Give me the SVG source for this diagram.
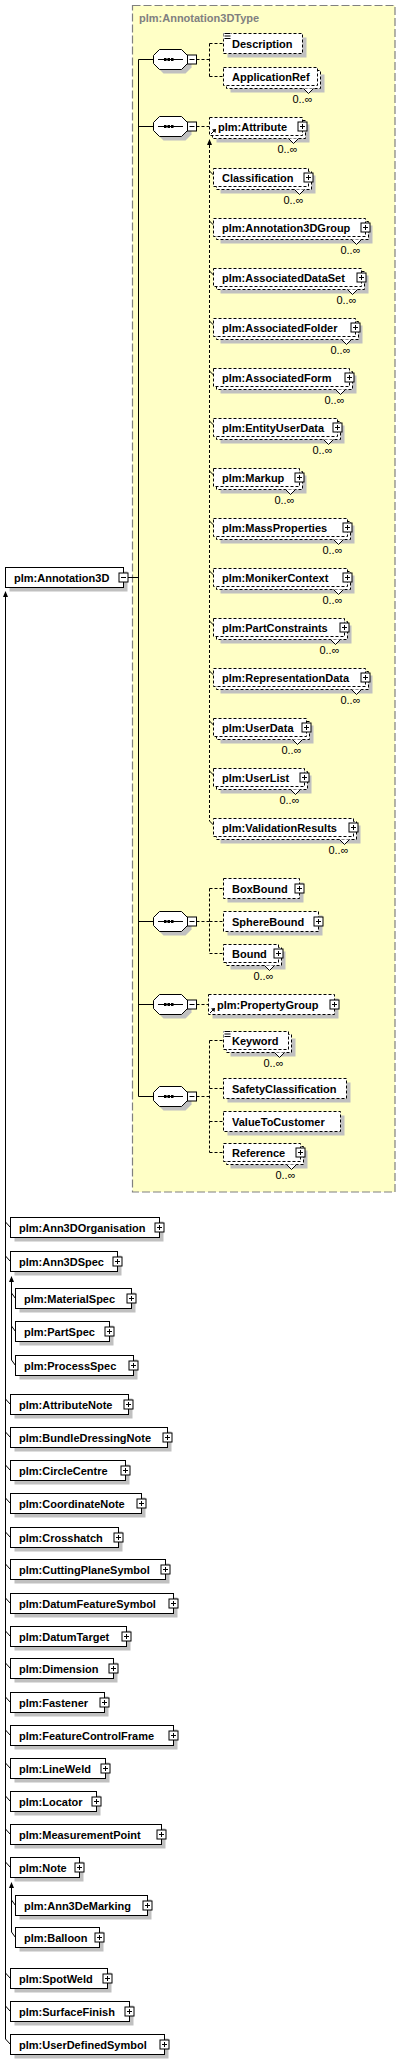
<svg xmlns="http://www.w3.org/2000/svg" xmlns:xlink="http://www.w3.org/1999/xlink" width="401" height="2059" viewBox="0 0 401 2059">
<style>
.t{font-family:"Liberation Sans",Arial,sans-serif;font-size:11px;font-weight:bold;fill:#000}
.tt{font-family:"Liberation Sans",Arial,sans-serif;font-size:11px;font-weight:bold;fill:#808080}
.c{font-family:"Liberation Sans",Arial,sans-serif;font-size:11px;fill:#000;text-anchor:end}
.sh{fill:#c0c0c0}
.bx{fill:#fff;stroke:#000;stroke-width:1}
.bd{fill:#fff;stroke:#000;stroke-width:1;stroke-dasharray:3,2}
.ln{fill:none;stroke:#000;stroke-width:1}
.dl{fill:none;stroke:#000;stroke-width:1;stroke-dasharray:3,2}
</style>
<defs>
<g id="plus"><rect x="-4" y="-4" width="9" height="9" class="bx"/><path d="M-2 0.5H3M0.5 -2V3" class="ln"/></g>
<g id="minus"><rect x="-4" y="-4" width="9" height="9" class="bx"/><path d="M-2 0.5H3" class="ln"/></g>
<g id="seq">
<polygon class="sh" points="10.5,-5.5 32.5,-5.5 38.5,0.5 38.5,8.5 32.5,14.5 10.5,14.5 4.5,8.5 4.5,0.5"/>
<polygon class="bx" points="6.5,-9.5 28.5,-9.5 34.5,-3.5 34.5,4.5 28.5,10.5 6.5,10.5 0.5,4.5 0.5,-3.5"/>
<path class="ln" d="M5 0.5H30"/>
<rect x="11" y="-1" width="2.5" height="3"/>
<rect x="14.5" y="-1" width="2.5" height="3"/>
<rect x="18" y="-1" width="2.5" height="3"/>
<rect class="bx" x="34.5" y="-4" width="9" height="9"/>
<path class="ln" d="M36.5 0.5H41.5"/>
</g>
<g id="notch"><polygon points="-5,0 0,5 5,0" fill="#fff"/><polyline points="-5,0 0,5 5,0" class="ln"/></g>
<g id="ref"><path d="M1.5 -1.5L5 -5" class="ln" stroke-width="1.3"/><polygon points="6.5,-6.5 2.5,-6 6,-2.5"/></g>
<g id="sc"><rect x="0" y="-1" width="7.5" height="7" fill="#fff"/><path class="ln" d="M1 0H7M1 2.5H7M1 5H7"/></g>
<polygon id="up" points="0,0 -2.5,6 2.5,6"/>
</defs>

<g id="Annotation3DType">
<rect x="132.5" y="5.5" width="262.5" height="1186.5" fill="#ffffc6" stroke="#808080" stroke-width="1.2" stroke-dasharray="8,3"/>
<text class="tt" x="139" y="22">plm:Annotation3DType</text>
</g>

<g id="connectors">
<path class="ln" d="M127.5 577.5H138.5M138.5 59.5V1096.5M138.5 59.5H153.5M138.5 126.5H153.5M138.5 921.5H153.5M138.5 1004.5H153.5M138.5 1096.5H153.5"/>
<path class="dl" d="M196.5 59.5H209.5M209.5 43.5V76.5M209.5 43.5H223M209.5 76.5H223"/>
<path class="dl" d="M196.5 126.5H209.5"/>
<path class="dl" d="M196.5 921.5H209.5M209.5 888.5V953.5M209.5 888.5H223M209.5 921.5H223M209.5 953.5H223"/>
<path class="dl" d="M196.5 1004.5H208.5"/>
<path class="dl" d="M196.5 1096.5H209.5M209.5 1040.5V1152.5M209.5 1040.5H223M209.5 1088.5H223M209.5 1121.5H223M209.5 1152.5H223"/>
<path class="dl" d="M209.5 145V821"/>
<use xlink:href="#up" href="#up" x="209.5" y="139"/>
<path class="ln" d="M209.5 171L213.5 175M209.5 221L213.5 225M209.5 271L213.5 275M209.5 321L213.5 325M209.5 371L213.5 375M209.5 421L213.5 425M209.5 471L213.5 475M209.5 521L213.5 525M209.5 571L213.5 575M209.5 621L213.5 625M209.5 671L213.5 675M209.5 721L213.5 725M209.5 771L213.5 775M209.5 821L213.5 825"/>
<path class="ln" d="M5.5 597V2039"/>
<use xlink:href="#up" href="#up" x="5.5" y="591"/>
<path class="ln" d="M5.5 1222L10.5 1227.5M5.5 1256L10.5 1261.5M5.5 1399L10.5 1404.5M5.5 1432L10.5 1437.5M5.5 1465L10.5 1470.5M5.5 1498L10.5 1503.5M5.5 1532L10.5 1537.5M5.5 1564L10.5 1569.5M5.5 1598L10.5 1603.5M5.5 1631L10.5 1636.5M5.5 1663L10.5 1668.5M5.5 1697L10.5 1702.5M5.5 1730L10.5 1735.5M5.5 1763L10.5 1768.5M5.5 1796L10.5 1801.5M5.5 1829L10.5 1834.5M5.5 1862L10.5 1867.5M5.5 1973L10.5 1978.5M5.5 2006L10.5 2011.5M5.5 2039L10.5 2044.5"/>
<path class="ln" d="M11.5 1281V1360M11.5 1293L15.5 1298.5M11.5 1326L15.5 1331.5M11.5 1360L15.5 1365.5"/>
<use xlink:href="#up" href="#up" x="11.5" y="1276"/>
<path class="ln" d="M11.5 1887V1932M11.5 1900L15.5 1905.5M11.5 1932L15.5 1937.5"/>
<use xlink:href="#up" href="#up" x="11.5" y="1882"/>
</g>

<g id="seq1"><use xlink:href="#seq" href="#seq" x="153" y="59"/></g>
<g id="seq2"><use xlink:href="#seq" href="#seq" x="153" y="126"/></g>
<g id="seq3"><use xlink:href="#seq" href="#seq" x="153" y="921"/></g>
<g id="seq4"><use xlink:href="#seq" href="#seq" x="153" y="1004"/></g>
<g id="seq5"><use xlink:href="#seq" href="#seq" x="153" y="1096"/></g>

<g id="Description">
<rect class="sh" x="227.5" y="37.5" width="79" height="20"/>
<rect class="bd" x="223.5" y="33.5" width="79" height="20"/>
<use xlink:href="#sc" href="#sc" x="223.5" y="33.5"/>
<text class="t" x="232" y="47.5">Description</text>
</g>
<g id="ApplicationRef">
<rect class="sh" x="230.5" y="74.5" width="94" height="18"/>
<rect class="bd" x="226.5" y="70.5" width="94" height="18"/>
<rect class="bd" x="223.5" y="67.5" width="94" height="18"/>
<use xlink:href="#notch" href="#notch" x="308.5" y="88.5"/>
<text class="t" x="232" y="80.5">ApplicationRef</text>
<text class="c" x="312.5" y="103">0..∞</text>
</g>

<g id="Attribute">
<rect class="sh" x="216.5" y="124.5" width="93" height="18"/>
<rect class="bd" x="212.5" y="120.5" width="93" height="18"/>
<rect class="bd" x="209.5" y="117.5" width="93" height="18"/>
<use xlink:href="#notch" href="#notch" x="293.5" y="138.5"/>
<use xlink:href="#ref" href="#ref" x="209.5" y="135.5"/>
<text class="t" x="218" y="130.5">plm:Attribute</text>
<use xlink:href="#plus" href="#plus" x="302" y="126"/>
<text class="c" x="297.5" y="153">0..∞</text>
</g>

<g id="Classification">
<rect class="sh" x="220.5" y="175.5" width="95" height="18"/>
<rect class="bd" x="216.5" y="171.5" width="95" height="18"/>
<rect class="bd" x="213.5" y="168.5" width="95" height="18"/>
<use xlink:href="#notch" href="#notch" x="299.5" y="189.5"/>
<text class="t" x="222" y="181.5">Classification</text>
<use xlink:href="#plus" href="#plus" x="308" y="177"/>
<text class="c" x="303.5" y="204">0..∞</text>
</g>
<g id="Annotation3DGroup">
<rect class="sh" x="220.5" y="225.5" width="152" height="18"/>
<rect class="bd" x="216.5" y="221.5" width="152" height="18"/>
<rect class="bd" x="213.5" y="218.5" width="152" height="18"/>
<use xlink:href="#notch" href="#notch" x="356.5" y="239.5"/>
<text class="t" x="222" y="231.5">plm:Annotation3DGroup</text>
<use xlink:href="#plus" href="#plus" x="365" y="227"/>
<text class="c" x="360.5" y="254">0..∞</text>
</g>
<g id="AssociatedDataSet">
<rect class="sh" x="220.5" y="275.5" width="148" height="18"/>
<rect class="bd" x="216.5" y="271.5" width="148" height="18"/>
<rect class="bd" x="213.5" y="268.5" width="148" height="18"/>
<use xlink:href="#notch" href="#notch" x="352.5" y="289.5"/>
<text class="t" x="222" y="281.5">plm:AssociatedDataSet</text>
<use xlink:href="#plus" href="#plus" x="361" y="277"/>
<text class="c" x="356.5" y="304">0..∞</text>
</g>
<g id="AssociatedFolder">
<rect class="sh" x="220.5" y="325.5" width="142" height="18"/>
<rect class="bd" x="216.5" y="321.5" width="142" height="18"/>
<rect class="bd" x="213.5" y="318.5" width="142" height="18"/>
<use xlink:href="#notch" href="#notch" x="346.5" y="339.5"/>
<text class="t" x="222" y="331.5">plm:AssociatedFolder</text>
<use xlink:href="#plus" href="#plus" x="355" y="327"/>
<text class="c" x="350.5" y="354">0..∞</text>
</g>
<g id="AssociatedForm">
<rect class="sh" x="220.5" y="375.5" width="136" height="18"/>
<rect class="bd" x="216.5" y="371.5" width="136" height="18"/>
<rect class="bd" x="213.5" y="368.5" width="136" height="18"/>
<use xlink:href="#notch" href="#notch" x="340.5" y="389.5"/>
<text class="t" x="222" y="381.5">plm:AssociatedForm</text>
<use xlink:href="#plus" href="#plus" x="349" y="377"/>
<text class="c" x="344.5" y="404">0..∞</text>
</g>
<g id="EntityUserData">
<rect class="sh" x="220.5" y="425.5" width="124" height="18"/>
<rect class="bd" x="216.5" y="421.5" width="124" height="18"/>
<rect class="bd" x="213.5" y="418.5" width="124" height="18"/>
<use xlink:href="#notch" href="#notch" x="328.5" y="439.5"/>
<text class="t" x="222" y="431.5">plm:EntityUserData</text>
<use xlink:href="#plus" href="#plus" x="337" y="427"/>
<text class="c" x="332.5" y="454">0..∞</text>
</g>
<g id="Markup">
<rect class="sh" x="220.5" y="475.5" width="86" height="18"/>
<rect class="bd" x="216.5" y="471.5" width="86" height="18"/>
<rect class="bd" x="213.5" y="468.5" width="86" height="18"/>
<use xlink:href="#notch" href="#notch" x="290.5" y="489.5"/>
<text class="t" x="222" y="481.5">plm:Markup</text>
<use xlink:href="#plus" href="#plus" x="299" y="477"/>
<text class="c" x="294.5" y="504">0..∞</text>
</g>
<g id="MassProperties">
<rect class="sh" x="220.5" y="525.5" width="134" height="18"/>
<rect class="bd" x="216.5" y="521.5" width="134" height="18"/>
<rect class="bd" x="213.5" y="518.5" width="134" height="18"/>
<use xlink:href="#notch" href="#notch" x="338.5" y="539.5"/>
<text class="t" x="222" y="531.5">plm:MassProperties</text>
<use xlink:href="#plus" href="#plus" x="347" y="527"/>
<text class="c" x="342.5" y="554">0..∞</text>
</g>
<g id="MonikerContext">
<rect class="sh" x="220.5" y="575.5" width="134" height="18"/>
<rect class="bd" x="216.5" y="571.5" width="134" height="18"/>
<rect class="bd" x="213.5" y="568.5" width="134" height="18"/>
<use xlink:href="#notch" href="#notch" x="338.5" y="589.5"/>
<text class="t" x="222" y="581.5">plm:MonikerContext</text>
<use xlink:href="#plus" href="#plus" x="347" y="577"/>
<text class="c" x="342.5" y="604">0..∞</text>
</g>
<g id="PartConstraints">
<rect class="sh" x="220.5" y="625.5" width="131" height="18"/>
<rect class="bd" x="216.5" y="621.5" width="131" height="18"/>
<rect class="bd" x="213.5" y="618.5" width="131" height="18"/>
<use xlink:href="#notch" href="#notch" x="335.5" y="639.5"/>
<text class="t" x="222" y="631.5">plm:PartConstraints</text>
<use xlink:href="#plus" href="#plus" x="344" y="627"/>
<text class="c" x="339.5" y="654">0..∞</text>
</g>
<g id="RepresentationData">
<rect class="sh" x="220.5" y="675.5" width="152" height="18"/>
<rect class="bd" x="216.5" y="671.5" width="152" height="18"/>
<rect class="bd" x="213.5" y="668.5" width="152" height="18"/>
<use xlink:href="#notch" href="#notch" x="356.5" y="689.5"/>
<text class="t" x="222" y="681.5">plm:RepresentationData</text>
<use xlink:href="#plus" href="#plus" x="365" y="677"/>
<text class="c" x="360.5" y="704">0..∞</text>
</g>
<g id="UserData">
<rect class="sh" x="220.5" y="725.5" width="93" height="18"/>
<rect class="bd" x="216.5" y="721.5" width="93" height="18"/>
<rect class="bd" x="213.5" y="718.5" width="93" height="18"/>
<use xlink:href="#notch" href="#notch" x="297.5" y="739.5"/>
<text class="t" x="222" y="731.5">plm:UserData</text>
<use xlink:href="#plus" href="#plus" x="306" y="727"/>
<text class="c" x="301.5" y="754">0..∞</text>
</g>
<g id="UserList">
<rect class="sh" x="220.5" y="775.5" width="91" height="18"/>
<rect class="bd" x="216.5" y="771.5" width="91" height="18"/>
<rect class="bd" x="213.5" y="768.5" width="91" height="18"/>
<use xlink:href="#notch" href="#notch" x="295.5" y="789.5"/>
<text class="t" x="222" y="781.5">plm:UserList</text>
<use xlink:href="#plus" href="#plus" x="304" y="777"/>
<text class="c" x="299.5" y="804">0..∞</text>
</g>
<g id="ValidationResults">
<rect class="sh" x="220.5" y="825.5" width="140" height="18"/>
<rect class="bd" x="216.5" y="821.5" width="140" height="18"/>
<rect class="bd" x="213.5" y="818.5" width="140" height="18"/>
<use xlink:href="#notch" href="#notch" x="344.5" y="839.5"/>
<text class="t" x="222" y="831.5">plm:ValidationResults</text>
<use xlink:href="#plus" href="#plus" x="353" y="827"/>
<text class="c" x="348.5" y="854">0..∞</text>
</g>

<g id="BoxBound">
<rect class="sh" x="227.5" y="882.5" width="76" height="20"/>
<rect class="bd" x="223.5" y="878.5" width="76" height="20"/>
<text class="t" x="232" y="892.5">BoxBound</text>
<use xlink:href="#plus" href="#plus" x="299" y="888"/>
</g>
<g id="SphereBound">
<rect class="sh" x="227.5" y="915.5" width="95" height="20"/>
<rect class="bd" x="223.5" y="911.5" width="95" height="20"/>
<text class="t" x="232" y="925.5">SphereBound</text>
<use xlink:href="#plus" href="#plus" x="318" y="921"/>
</g>
<g id="Bound">
<rect class="sh" x="230.5" y="951.5" width="55" height="18"/>
<rect class="bd" x="226.5" y="947.5" width="55" height="18"/>
<rect class="bd" x="223.5" y="944.5" width="55" height="18"/>
<use xlink:href="#notch" href="#notch" x="269.5" y="965.5"/>
<text class="t" x="232" y="957.5">Bound</text>
<use xlink:href="#plus" href="#plus" x="278" y="953"/>
<text class="c" x="273.5" y="980">0..∞</text>
</g>

<g id="PropertyGroup">
<rect class="sh" x="212.5" y="998.5" width="126" height="20"/>
<rect class="bd" x="208.5" y="994.5" width="126" height="20"/>
<use xlink:href="#ref" href="#ref" x="208.5" y="1014.5"/>
<text class="t" x="217" y="1008.5">plm:PropertyGroup</text>
<use xlink:href="#plus" href="#plus" x="334" y="1004"/>
</g>

<g id="Keyword">
<rect class="sh" x="230.5" y="1038.5" width="65" height="18"/>
<rect class="bd" x="226.5" y="1034.5" width="65" height="18"/>
<rect class="bd" x="223.5" y="1031.5" width="65" height="18"/>
<use xlink:href="#notch" href="#notch" x="279.5" y="1052.5"/>
<use xlink:href="#sc" href="#sc" x="223.5" y="1031.5"/>
<text class="t" x="232" y="1044.5">Keyword</text>
<text class="c" x="283.5" y="1067">0..∞</text>
</g>
<g id="SafetyClassification">
<rect class="sh" x="227.5" y="1082.5" width="123" height="20"/>
<rect class="bd" x="223.5" y="1078.5" width="123" height="20"/>
<text class="t" x="232" y="1092.5">SafetyClassification</text>
</g>
<g id="ValueToCustomer">
<rect class="sh" x="227.5" y="1115.5" width="117" height="20"/>
<rect class="bd" x="223.5" y="1111.5" width="117" height="20"/>
<text class="t" x="232" y="1125.5">ValueToCustomer</text>
</g>
<g id="Reference">
<rect class="sh" x="230.5" y="1150.5" width="77" height="18"/>
<rect class="bd" x="226.5" y="1146.5" width="77" height="18"/>
<rect class="bd" x="223.5" y="1143.5" width="77" height="18"/>
<use xlink:href="#notch" href="#notch" x="291.5" y="1164.5"/>
<text class="t" x="232" y="1156.5">Reference</text>
<use xlink:href="#plus" href="#plus" x="300" y="1152"/>
<text class="c" x="295.5" y="1179">0..∞</text>
</g>

<g id="Annotation3D">
<rect class="sh" x="9.5" y="571.5" width="118" height="20"/>
<rect class="bx" x="5.5" y="567.5" width="118" height="20"/>
<text class="t" x="14" y="581.5">plm:Annotation3D</text>
<use xlink:href="#minus" href="#minus" x="123" y="577"/>
</g>

<g id="Ann3DOrganisation"><rect class="sh" x="14.5" y="1221.5" width="149" height="20"/><rect class="bx" x="10.5" y="1217.5" width="149" height="20"/><text class="t" x="19" y="1231.5">plm:Ann3DOrganisation</text><use xlink:href="#plus" href="#plus" x="159" y="1227"/></g>
<g id="Ann3DSpec"><rect class="sh" x="14.5" y="1255.5" width="107" height="20"/><rect class="bx" x="10.5" y="1251.5" width="107" height="20"/><text class="t" x="19" y="1265.5">plm:Ann3DSpec</text><use xlink:href="#plus" href="#plus" x="117" y="1261"/></g>
<g id="MaterialSpec"><rect class="sh" x="19.5" y="1292.5" width="116" height="20"/><rect class="bx" x="15.5" y="1288.5" width="116" height="20"/><text class="t" x="24" y="1302.5">plm:MaterialSpec</text><use xlink:href="#plus" href="#plus" x="131" y="1298"/></g>
<g id="PartSpec"><rect class="sh" x="19.5" y="1325.5" width="94" height="20"/><rect class="bx" x="15.5" y="1321.5" width="94" height="20"/><text class="t" x="24" y="1335.5">plm:PartSpec</text><use xlink:href="#plus" href="#plus" x="109" y="1331"/></g>
<g id="ProcessSpec"><rect class="sh" x="19.5" y="1359.5" width="118" height="20"/><rect class="bx" x="15.5" y="1355.5" width="118" height="20"/><text class="t" x="24" y="1369.5">plm:ProcessSpec</text><use xlink:href="#plus" href="#plus" x="133" y="1365"/></g>
<g id="AttributeNote"><rect class="sh" x="14.5" y="1398.5" width="118" height="20"/><rect class="bx" x="10.5" y="1394.5" width="118" height="20"/><text class="t" x="19" y="1408.5">plm:AttributeNote</text><use xlink:href="#plus" href="#plus" x="128" y="1404"/></g>
<g id="BundleDressingNote"><rect class="sh" x="14.5" y="1431.5" width="157" height="20"/><rect class="bx" x="10.5" y="1427.5" width="157" height="20"/><text class="t" x="19" y="1441.5">plm:BundleDressingNote</text><use xlink:href="#plus" href="#plus" x="167" y="1437"/></g>
<g id="CircleCentre"><rect class="sh" x="14.5" y="1464.5" width="115" height="20"/><rect class="bx" x="10.5" y="1460.5" width="115" height="20"/><text class="t" x="19" y="1474.5">plm:CircleCentre</text><use xlink:href="#plus" href="#plus" x="125" y="1470"/></g>
<g id="CoordinateNote"><rect class="sh" x="14.5" y="1497.5" width="131" height="20"/><rect class="bx" x="10.5" y="1493.5" width="131" height="20"/><text class="t" x="19" y="1507.5">plm:CoordinateNote</text><use xlink:href="#plus" href="#plus" x="141" y="1503"/></g>
<g id="Crosshatch"><rect class="sh" x="14.5" y="1531.5" width="108" height="20"/><rect class="bx" x="10.5" y="1527.5" width="108" height="20"/><text class="t" x="19" y="1541.5">plm:Crosshatch</text><use xlink:href="#plus" href="#plus" x="118" y="1537"/></g>
<g id="CuttingPlaneSymbol"><rect class="sh" x="14.5" y="1563.5" width="155" height="20"/><rect class="bx" x="10.5" y="1559.5" width="155" height="20"/><text class="t" x="19" y="1573.5">plm:CuttingPlaneSymbol</text><use xlink:href="#plus" href="#plus" x="165" y="1569"/></g>
<g id="DatumFeatureSymbol"><rect class="sh" x="14.5" y="1597.5" width="163" height="20"/><rect class="bx" x="10.5" y="1593.5" width="163" height="20"/><text class="t" x="19" y="1607.5">plm:DatumFeatureSymbol</text><use xlink:href="#plus" href="#plus" x="173" y="1603"/></g>
<g id="DatumTarget"><rect class="sh" x="14.5" y="1630.5" width="116" height="20"/><rect class="bx" x="10.5" y="1626.5" width="116" height="20"/><text class="t" x="19" y="1640.5">plm:DatumTarget</text><use xlink:href="#plus" href="#plus" x="126" y="1636"/></g>
<g id="Dimension"><rect class="sh" x="14.5" y="1662.5" width="103" height="20"/><rect class="bx" x="10.5" y="1658.5" width="103" height="20"/><text class="t" x="19" y="1672.5">plm:Dimension</text><use xlink:href="#plus" href="#plus" x="113" y="1668"/></g>
<g id="Fastener"><rect class="sh" x="14.5" y="1696.5" width="94" height="20"/><rect class="bx" x="10.5" y="1692.5" width="94" height="20"/><text class="t" x="19" y="1706.5">plm:Fastener</text><use xlink:href="#plus" href="#plus" x="104" y="1702"/></g>
<g id="FeatureControlFrame"><rect class="sh" x="14.5" y="1729.5" width="163" height="20"/><rect class="bx" x="10.5" y="1725.5" width="163" height="20"/><text class="t" x="19" y="1739.5">plm:FeatureControlFrame</text><use xlink:href="#plus" href="#plus" x="173" y="1735"/></g>
<g id="LineWeld"><rect class="sh" x="14.5" y="1762.5" width="95" height="20"/><rect class="bx" x="10.5" y="1758.5" width="95" height="20"/><text class="t" x="19" y="1772.5">plm:LineWeld</text><use xlink:href="#plus" href="#plus" x="105" y="1768"/></g>
<g id="Locator"><rect class="sh" x="14.5" y="1795.5" width="86" height="20"/><rect class="bx" x="10.5" y="1791.5" width="86" height="20"/><text class="t" x="19" y="1805.5">plm:Locator</text><use xlink:href="#plus" href="#plus" x="96" y="1801"/></g>
<g id="MeasurementPoint"><rect class="sh" x="14.5" y="1828.5" width="151" height="20"/><rect class="bx" x="10.5" y="1824.5" width="151" height="20"/><text class="t" x="19" y="1838.5">plm:MeasurementPoint</text><use xlink:href="#plus" href="#plus" x="161" y="1834"/></g>
<g id="Note"><rect class="sh" x="14.5" y="1861.5" width="69" height="20"/><rect class="bx" x="10.5" y="1857.5" width="69" height="20"/><text class="t" x="19" y="1871.5">plm:Note</text><use xlink:href="#plus" href="#plus" x="79" y="1867"/></g>
<g id="Ann3DeMarking"><rect class="sh" x="19.5" y="1899.5" width="132" height="20"/><rect class="bx" x="15.5" y="1895.5" width="132" height="20"/><text class="t" x="24" y="1909.5">plm:Ann3DeMarking</text><use xlink:href="#plus" href="#plus" x="147" y="1905"/></g>
<g id="Balloon"><rect class="sh" x="19.5" y="1931.5" width="84" height="20"/><rect class="bx" x="15.5" y="1927.5" width="84" height="20"/><text class="t" x="24" y="1941.5">plm:Balloon</text><use xlink:href="#plus" href="#plus" x="99" y="1937"/></g>
<g id="SpotWeld"><rect class="sh" x="14.5" y="1972.5" width="97" height="20"/><rect class="bx" x="10.5" y="1968.5" width="97" height="20"/><text class="t" x="19" y="1982.5">plm:SpotWeld</text><use xlink:href="#plus" href="#plus" x="107" y="1978"/></g>
<g id="SurfaceFinish"><rect class="sh" x="14.5" y="2005.5" width="119" height="20"/><rect class="bx" x="10.5" y="2001.5" width="119" height="20"/><text class="t" x="19" y="2015.5">plm:SurfaceFinish</text><use xlink:href="#plus" href="#plus" x="129" y="2011"/></g>
<g id="UserDefinedSymbol"><rect class="sh" x="14.5" y="2038.5" width="154" height="20"/><rect class="bx" x="10.5" y="2034.5" width="154" height="20"/><text class="t" x="19" y="2048.5">plm:UserDefinedSymbol</text><use xlink:href="#plus" href="#plus" x="164" y="2044"/></g>
</svg>
